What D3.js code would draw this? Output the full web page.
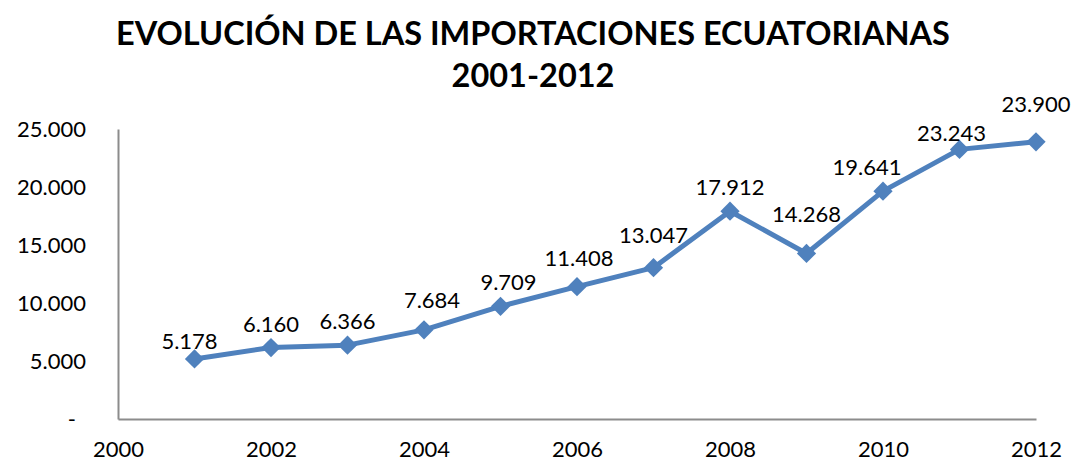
<!DOCTYPE html>
<html>
<head>
<meta charset="utf-8">
<script src="https://cdn.jsdelivr.net/npm/d3@7"></script>
<style>
  body { margin: 0; background: #fff; }
  svg { display: block; }
</style>
</head>
<body>
<div id="chart"></div>
<script>
// data
var years = [2001, 2002, 2003, 2004, 2005, 2006, 2007, 2008, 2009, 2010, 2011, 2012];
var imports = [5178, 6160, 6366, 7684, 9709, 11408, 13047, 17912, 14268, 19641, 23243, 23900];
var xTicks = [2000, 2002, 2004, 2006, 2008, 2010, 2012];
var yTicks = [0, 5000, 10000, 15000, 20000, 25000];
var titleLines = ["EVOLUCIÓN DE LAS IMPORTACIONES ECUATORIANAS", "2001-2012"];

var W = 1087, H = 465;
var margin = {top: 129, right: 51, bottom: 46, left: 118},
    width = W - margin.left - margin.right,
    height = H - margin.top - margin.bottom;

var loc = d3.formatLocale({decimal: ",", thousands: ".", grouping: [3], currency: ["", ""]});
var fmt = loc.format(",.0f");

var x = d3.scaleLinear().domain([2000, 2012]).range([0, width]);
var y = d3.scaleLinear().domain([0, 25000]).range([height, 0]);

var svg = d3.select("#chart").append("svg")
    .attr("width", W)
    .attr("height", H);

// title
svg.append("g").selectAll("text")
    .data(titleLines)
  .enter().append("text")
    .attr("x", 533)
    .attr("y", function (d, i) { return 45 + i * 42; })
    .attr("text-anchor", "middle")
    .style("font-family", "Lato, 'Open Sans', sans-serif")
    .style("font-weight", "bold")
    .style("font-size", "32.5px")
    .text(function (d) { return d; });

var g = svg.append("g").attr("transform", "translate(" + margin.left + "," + margin.top + ")");

var yAxis = d3.axisLeft(y).tickValues(yTicks).tickSize(0).tickPadding(32)
    .tickFormat(function (d) { return d === 0 ? "-" : fmt(d); });
var xAxis = d3.axisBottom(x).tickValues(xTicks).tickSize(0).tickPadding(22)
    .tickFormat(d3.format("d"));

g.append("g").attr("class", "y axis").call(yAxis);
g.append("g").attr("class", "x axis").attr("transform", "translate(0," + height + ")").call(xAxis);

g.selectAll(".axis path.domain").attr("stroke", "#8c8c8c").attr("stroke-width", 2);
g.selectAll(".axis text")
    .style("font-family", "Lato, 'Open Sans', sans-serif")
    .style("font-size", "22px")
    .attr("fill", "#000");
g.selectAll(".y.axis .tick text").filter(function (d) { return d === 0; }).attr("dx", -10);

// line
var line = d3.line()
    .x(function (d, i) { return x(years[i]); })
    .y(function (d) { return y(d); });

g.append("path")
    .datum(imports)
    .attr("fill", "none")
    .attr("stroke", "#4f81bd")
    .attr("stroke-width", 5)
    .attr("stroke-linejoin", "round")
    .attr("d", line);

// diamond markers
var diamond = d3.symbol().type(d3.symbolSquare).size(185);
g.selectAll(".marker")
    .data(imports)
  .enter().append("path")
    .attr("class", "marker")
    .attr("d", diamond)
    .attr("fill", "#4f81bd")
    .attr("transform", function (d, i) { return "translate(" + x(years[i]) + "," + y(d) + ") rotate(45)"; });

// data labels (a few were nudged by hand in the original)
var nudge = {2001: [-5, 6], 2004: [8, -6], 2005: [8, 0], 2006: [2, -5], 2007: [0, -9], 2009: [0, -15],
             2010: [-16, 0], 2011: [-8, 8], 2012: [0, -14]};
g.selectAll(".lbl")
    .data(imports)
  .enter().append("text")
    .attr("class", "lbl")
    .attr("x", function (d, i) { var n = nudge[years[i]] || [0, 0]; return x(years[i]) + n[0]; })
    .attr("y", function (d, i) { var n = nudge[years[i]] || [0, 0]; return y(d) - 16 + n[1]; })
    .attr("text-anchor", "middle")
    .style("font-family", "Lato, 'Open Sans', sans-serif")
    .style("font-size", "22px")
    .text(function (d) { return fmt(d); });
</script>
</body>
</html>
